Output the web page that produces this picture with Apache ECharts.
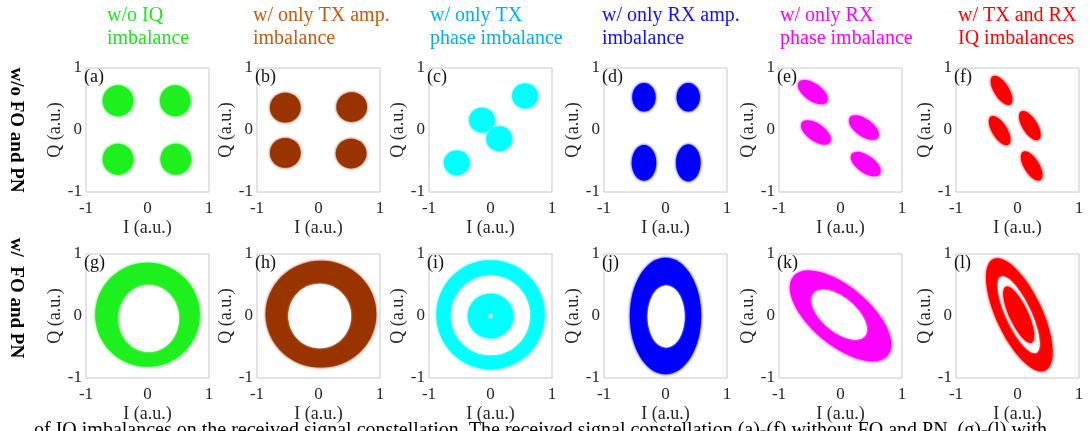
<!DOCTYPE html>
<html><head><meta charset="utf-8">
<script src="https://cdn.jsdelivr.net/npm/echarts@6/dist/echarts.min.js"></script>
<style>html,body{margin:0;padding:0;background:#fff}#c{width:1089px;height:431px}</style>
</head><body><div id="c"></div><script>
// ---------- data ----------
const columnTitles = ['w/o IQ\nimbalance', 'w/ only TX amp.\nimbalance', 'w/ only TX\nphase imbalance',
  'w/ only RX amp.\nimbalance', 'w/ only RX\nphase imbalance', 'w/ TX and RX\nIQ imbalances'];
const rowTitles = ['w/o FO and PN', 'w/  FO and PN'];
const panelLetters = ['(a)', '(b)', '(c)', '(d)', '(e)', '(f)', '(g)', '(h)', '(i)', '(j)', '(k)', '(l)'];
const axisTicks = [-1, 0, 1];
const axisNames = ['I (a.u.)', 'Q (a.u.)'];
const captionText = 'of IQ imbalances on the received signal constellation. The received signal constellation (a)-(f) without FO and PN, (g)-(l) with';

// constellation regions:
// [I centre, Q centre, semi-axis 1, semi-axis 2, tilt (deg), filled (1) / empty (0)]
const panelA = [[-0.48, 0.47, 0.25, 0.25, 0, 1], [0.45, 0.47, 0.25, 0.25, 0, 1], [-0.48, -0.47, 0.25, 0.25, 0, 1], [0.46, -0.47, 0.25, 0.25, 0, 1]];
const panelB = [[-0.54, 0.36, 0.25, 0.24, 0, 1], [0.54, 0.37, 0.25, 0.24, 0, 1], [-0.54, -0.37, 0.25, 0.24, 0, 1], [0.53, -0.38, 0.25, 0.24, 0, 1]];
const panelC = [[0.56, 0.55, 0.21, 0.2, 0, 1], [-0.14, 0.16, 0.21, 0.2, 0, 1], [0.14, -0.14, 0.21, 0.2, 0, 1], [-0.55, -0.53, 0.21, 0.2, 0, 1]];
const panelD = [[-0.35, 0.53, 0.19, 0.23, 0, 1], [0.37, 0.53, 0.19, 0.23, 0, 1], [-0.35, -0.53, 0.2, 0.29, 0, 1], [0.37, -0.53, 0.2, 0.3, 0, 1]];
const panelE = [[-0.45, 0.61, 0.28, 0.14, -35, 1], [-0.40, -0.04, 0.28, 0.14, -35, 1], [0.38, 0.04, 0.28, 0.14, -35, 1], [0.41, -0.55, 0.28, 0.14, -35, 1]];
const panelF = [[-0.26, 0.64, 0.27, 0.12, -58, 1], [-0.29, -0.01, 0.27, 0.12, -58, 1], [0.20, 0.07, 0.27, 0.12, -58, 1], [0.23, -0.58, 0.27, 0.12, -58, 1]];
const panelG = [[0.0, 0.02, 0.85, 0.84, 0, 1], [0.02, -0.04, 0.49, 0.54, 0, 0]];
const panelH = [[0.04, 0.03, 0.9, 0.86, 0, 1], [0.02, 0.0, 0.51, 0.52, 0, 0]];
const panelI = [[0.0, 0.02, 0.88, 0.88, 0, 1], [0.0, 0.01, 0.64, 0.64, 0, 0], [0.0, 0.0, 0.37, 0.36, 0, 1], [0.0, 0.0, 0.03, 0.03, 0, 0]];
const panelJ = [[0.0, 0.0, 0.58, 0.94, 0, 1], [0.01, -0.01, 0.3, 0.5, 0, 0]];
const panelK = [[0.0, 0.0, 1.0, 0.47, -40, 1], [-0.02, 0.02, 0.54, 0.27, -40, 0]];
const panelL = [[0.03, 0.02, 1.0, 0.37, -65, 1], [0.02, 0.02, 0.68, 0.2, -65, 0], [0.02, 0.02, 0.5, 0.15, -65, 1]];
const panels = [panelA, panelB, panelC, panelD, panelE, panelF, panelG, panelH, panelI, panelJ, panelK, panelL];

// ---------- styles / layout ----------
const dataColors = ['#1ef01e', '#993300', '#00ffff', '#0000ff', '#ff00ff', '#ff0000'];
const titleColors = ['#1ee61e', '#c55a11', '#00b0f0', '#1010ff', '#ff00ff', '#ff0000'];
const FONT = '"Liberation Serif", "Times New Roman", serif';
const colLeft = [86, 257, 429, 604, 779, 956];
const titleLeft = [107, 253, 430, 602, 780, 958];
const rowTop = [68, 254];
const boxW = 123, boxH = 124;
const textColor = '#262626';

const grids = [], xAxes = [], yAxes = [], series = [], graphics = [];
for (let i = 0; i < 12; i++) {
  const r = Math.floor(i / 6), c = i % 6;
  grids.push({left: colLeft[c], top: rowTop[r], width: boxW, height: boxH, show: true,
    borderColor: '#c8c8c8', borderWidth: 1, backgroundColor: 'transparent'});
  const common = {gridIndex: i, type: 'value', min: axisTicks[0], max: axisTicks[2], interval: 1,
    nameLocation: 'middle', nameTextStyle: {fontFamily: FONT, fontSize: 18, color: textColor},
    axisLine: {show: false}, axisTick: {show: false}, splitLine: {show: false},
    axisLabel: {fontFamily: FONT, fontSize: 17, color: textColor, showMinLabel: true, showMaxLabel: true}};
  xAxes.push(Object.assign({}, common, {name: axisNames[0], nameGap: 27,
    axisLabel: Object.assign({}, common.axisLabel, {margin: 8})}));
  yAxes.push(Object.assign({}, common, {name: axisNames[1], nameGap: 22,
    axisLabel: Object.assign({}, common.axisLabel, {margin: 4})}));
  const colour = dataColors[c];
  series.push({
    type: 'custom', xAxisIndex: i, yAxisIndex: i, data: panels[i], clip: false, silent: true,
    renderItem: function (params, api) {
      const p = api.coord([api.value(0), api.value(1)]);
      const s = api.size([1, 1]);
      const filled = api.value(5) === 1;
      const fill = filled ? colour : '#ffffff';
      return {type: 'group', x: p[0], y: p[1], rotation: api.value(4) * Math.PI / 180,
        children: [{type: 'ellipse', shape: {cx: 0, cy: 0, rx: api.value(2) * s[0], ry: api.value(3) * s[1]},
          style: {fill: fill, shadowBlur: filled ? 3 : 2, shadowColor: fill}}]};
    }
  });
  graphics.push({type: 'text', x: colLeft[c] - 2, y: rowTop[r], z: 100,
    style: {text: panelLetters[i], fontFamily: FONT, fontSize: 18, fill: '#111', align: 'left', verticalAlign: 'top'}});
}
for (let c = 0; c < 6; c++) {
  graphics.push({type: 'text', x: titleLeft[c], y: 4, z: 100,
    style: {text: columnTitles[c], fontFamily: FONT, fontSize: 20, lineHeight: 23, fill: titleColors[c], align: 'left', verticalAlign: 'top'}});
}
const rowCentre = [130, 298];
for (let r = 0; r < 2; r++) {
  graphics.push({type: 'text', x: 16, y: rowCentre[r], rotation: -Math.PI / 2, z: 100,
    style: {text: rowTitles[r], fontFamily: FONT, fontSize: 19, fontWeight: 'bold', fill: '#000', align: 'center', verticalAlign: 'middle'}});
}
graphics.push({type: 'text', x: 34, y: 421, z: 100,
  style: {text: captionText, fontFamily: FONT, fontSize: 20, fill: '#000', align: 'left', verticalAlign: 'top'}});

const chart = echarts.init(document.getElementById('c'), null, {renderer: 'canvas'});
chart.setOption({animation: false, backgroundColor: '#fff', grid: grids, xAxis: xAxes, yAxis: yAxes, series: series, graphic: graphics});
</script></body></html>
